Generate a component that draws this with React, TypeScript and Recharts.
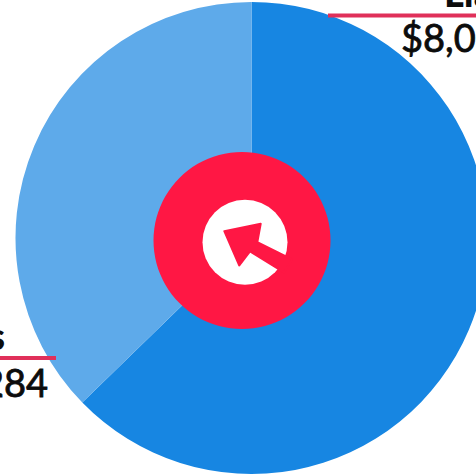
import { PieChart, Pie, Cell } from 'recharts';

const CATEGORIES = ['Liabilities', 'Assets'];
const VALUES = [8050, 4784];
const VALUE_LABELS = ['$8,050', '$4,284'];
const COLORS = ['#1786e2', '#5eaaea'];
const CENTER = [1];

const FONT = 'Lato, sans-serif';
const LINE = '#e0305a';
const INK = '#0c0c0c';

// leader line + two line caption, placed by slice since recharts gives the index
const renderLabel = ({ index }: { index: number }) => {
  if (index === 0) {
    return (
      <g key="label-0">
        <line x1={328} y1={15.5} x2={476} y2={15.5} stroke={LINE} strokeWidth={4} />
        <text x={444} y={7} fontFamily={FONT} fontWeight={900} fontSize={38} fill={INK}>
          {CATEGORIES[0]}
        </text>
        <text x={401} y={52} fontFamily={FONT} fontSize={38} fill={INK} stroke={INK} strokeWidth={0.8}>
          {VALUE_LABELS[0]}
        </text>
      </g>
    );
  }
  return (
    <g key="label-1">
      <line x1={0} y1={358} x2={56} y2={358} stroke={LINE} strokeWidth={4} />
      <text x={5} y={350} textAnchor="end" fontFamily={FONT} fontWeight={900} fontSize={38} fill={INK}>
        {CATEGORIES[1]}
      </text>
      <text x={48} y={397} textAnchor="end" fontFamily={FONT} fontSize={38} fill={INK} stroke={INK} strokeWidth={0.8}>
        {VALUE_LABELS[1]}
      </text>
    </g>
  );
};

// white disc with the arrow in the middle of the chart
const renderBadge = (props: { cx: number; cy: number }) => {
  const { cx, cy } = props;
  return (
    <g key="badge" transform={`translate(${cx} ${cy})`}>
      <circle cx={3} cy={1.7} r={42.5} fill="#fff" />
      <path
        d="M-17.7 -9.3 L18.7 -16.7 L15.3 1.7 L50 19 L42 32 L8 11 L-2.7 25 Z"
        fill="#ff1744"
        stroke="#ff1744"
        strokeWidth={2}
        strokeLinejoin="round"
      />
    </g>
  );
};

export default function App() {
  const data = CATEGORIES.map((name, i) => ({ name, value: VALUES[i] }));
  return (
    <div style={{ position: 'fixed', left: 0, top: 0, width: 476, height: 475, overflow: 'hidden', background: '#fff' }}>
      <PieChart width={476} height={475} margin={{ top: 0, right: 0, bottom: 0, left: 0 }}>
        <Pie
          data={data}
          dataKey="value"
          cx={251.5}
          cy={238}
          innerRadius={0}
          outerRadius={236}
          startAngle={90}
          endAngle={-270}
          stroke="none"
          label={renderLabel}
          labelLine={false}
          isAnimationActive={false}
        >
          {data.map((d, i) => (
            <Cell key={d.name} fill={COLORS[i]} />
          ))}
        </Pie>
        <Pie
          data={CENTER.map((value) => ({ value }))}
          dataKey="value"
          cx={242}
          cy={240.5}
          innerRadius={0}
          outerRadius={88.5}
          stroke="none"
          fill="#ff1744"
          label={renderBadge}
          labelLine={false}
          isAnimationActive={false}
        />
      </PieChart>
    </div>
  );
}
